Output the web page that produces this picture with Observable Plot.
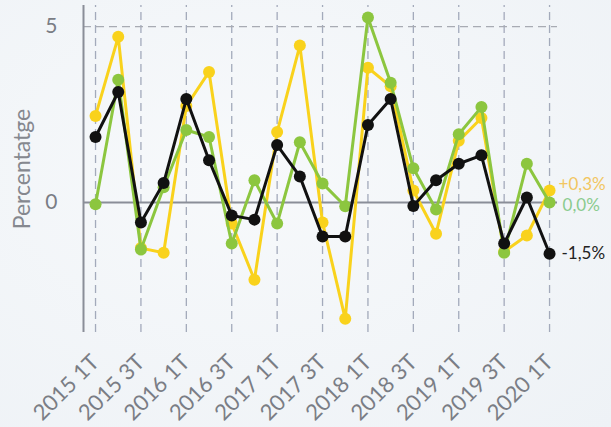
<!DOCTYPE html>
<html>
<head>
<meta charset="utf-8">
<script src="https://cdn.jsdelivr.net/npm/d3@7"></script>
<script src="https://cdn.jsdelivr.net/npm/@observablehq/plot@0.6"></script>
<style>
  html, body { margin: 0; padding: 0; }
  body { width: 611px; height: 427px; overflow: hidden;
         background: radial-gradient(ellipse at 40% 40%, #f7f9fb 0%, #eef2f6 100%); }
</style>
</head>
<body>
<div id="chart"></div>
<script>
const quarters = ["2015 1T","2015 2T","2015 3T","2015 4T","2016 1T","2016 2T","2016 3T","2016 4T",
  "2017 1T","2017 2T","2017 3T","2017 4T","2018 1T","2018 2T","2018 3T","2018 4T",
  "2019 1T","2019 2T","2019 3T","2019 4T","2020 1T"];
const yellowValues = [2.46, 4.71, -1.3, -1.43, 2.74, 3.71, -0.6, -2.2, 2.0, 4.46, -0.57, -3.31,
  3.83, 3.3, 0.34, -0.89, 1.75, 2.4, -1.4, -0.94, 0.34];
const greenValues = [-0.05, 3.49, -1.34, 0.43, 2.06, 1.86, -1.17, 0.63, -0.6, 1.71, 0.54, -0.11,
  5.26, 3.4, 0.97, -0.2, 1.94, 2.71, -1.43, 1.1, 0.0];
const blackValues = [1.86, 3.14, -0.57, 0.55, 2.94, 1.2, -0.37, -0.49, 1.63, 0.74, -0.97, -0.97,
  2.2, 2.94, -0.1, 0.63, 1.1, 1.34, -1.17, 0.14, -1.46];
const seriesNames = ["yellow", "green", "black"];
const seriesColors = ["#f9d21c", "#8cc63f", "#111111"];
const labelColors = ["#f2c661", "#8acb8e", "#222222"];
const endLabels = ["+0,3%", "0,0%", "-1,5%"];
const labelShift = [-6, 3, 0];
const labelGap = [9, 13, 12];
const tickIndexes = [0, 2, 4, 6, 8, 10, 12, 14, 16, 18, 20];
const yTicks = [0, 5];
const yTitle = "Percentatge";

const allSeries = [yellowValues, greenValues, blackValues];
const rows = allSeries.flatMap((vals, s) => vals.map((v, i) => ({i, v, s: seriesNames[s]})));
const last = allSeries.map((vals, s) => ({i: vals.length - 1, v: vals[vals.length - 1], s: seriesNames[s], label: endLabels[s], color: labelColors[s], dy: labelShift[s], dx: labelGap[s]}));

const xDomain = [-0.53, 20.35];
const yDomain = [-3.7, 5.6];

const marks = [
  Plot.ruleX(tickIndexes, {y1: yDomain[0], y2: yDomain[1], stroke: "#a3aabb", strokeWidth: 1.3, strokeDasharray: "8,5"}),
  Plot.ruleY([5], {stroke: "#a8abb3", strokeWidth: 1.3, strokeDasharray: "8,5"}),
  Plot.ruleY([0], {stroke: "#8a8e98", strokeWidth: 2}),
  Plot.ruleX([xDomain[0]], {y1: yDomain[0], y2: yDomain[1], stroke: "#8a8e98", strokeWidth: 2}),
];
seriesNames.forEach((name, s) => {
  const d = rows.filter(r => r.s === name);
  marks.push(Plot.line(d, {x: "i", y: "v", stroke: seriesColors[s], strokeWidth: 3}));
  marks.push(Plot.dot(d, {x: "i", y: "v", fill: seriesColors[s], r: 6}));
});
last.forEach(l => {
  marks.push(Plot.text([l], {x: "i", y: "v", text: "label", fill: l.color, textAnchor: "start", dx: l.dx, dy: l.dy, fontSize: 17}));
});
marks.push(Plot.axisX({ticks: tickIndexes, tickFormat: i => quarters[i], tickRotate: -45, tickSize: 0, tickPadding: 26, label: null, fontSize: 22}));
marks.push(Plot.axisY({ticks: yTicks, tickSize: 0, tickPadding: 26, label: null, fontSize: 21}));
marks.push(Plot.text([yTitle], {frameAnchor: "left", textAnchor: "middle", rotate: -90, dx: -61, fontSize: 23, fill: "#85888f"}));

const chart = Plot.plot({
  width: 611,
  height: 427,
  marginLeft: 83,
  marginRight: 54,
  marginTop: 5,
  marginBottom: 95,
  x: {domain: xDomain},
  y: {domain: yDomain},
  style: {background: "transparent", fontFamily: "Lato", color: "#7a7d85", fontSize: "20px", overflow: "visible"},
  marks
});
document.getElementById("chart").appendChild(chart);
</script>
</body>
</html>
